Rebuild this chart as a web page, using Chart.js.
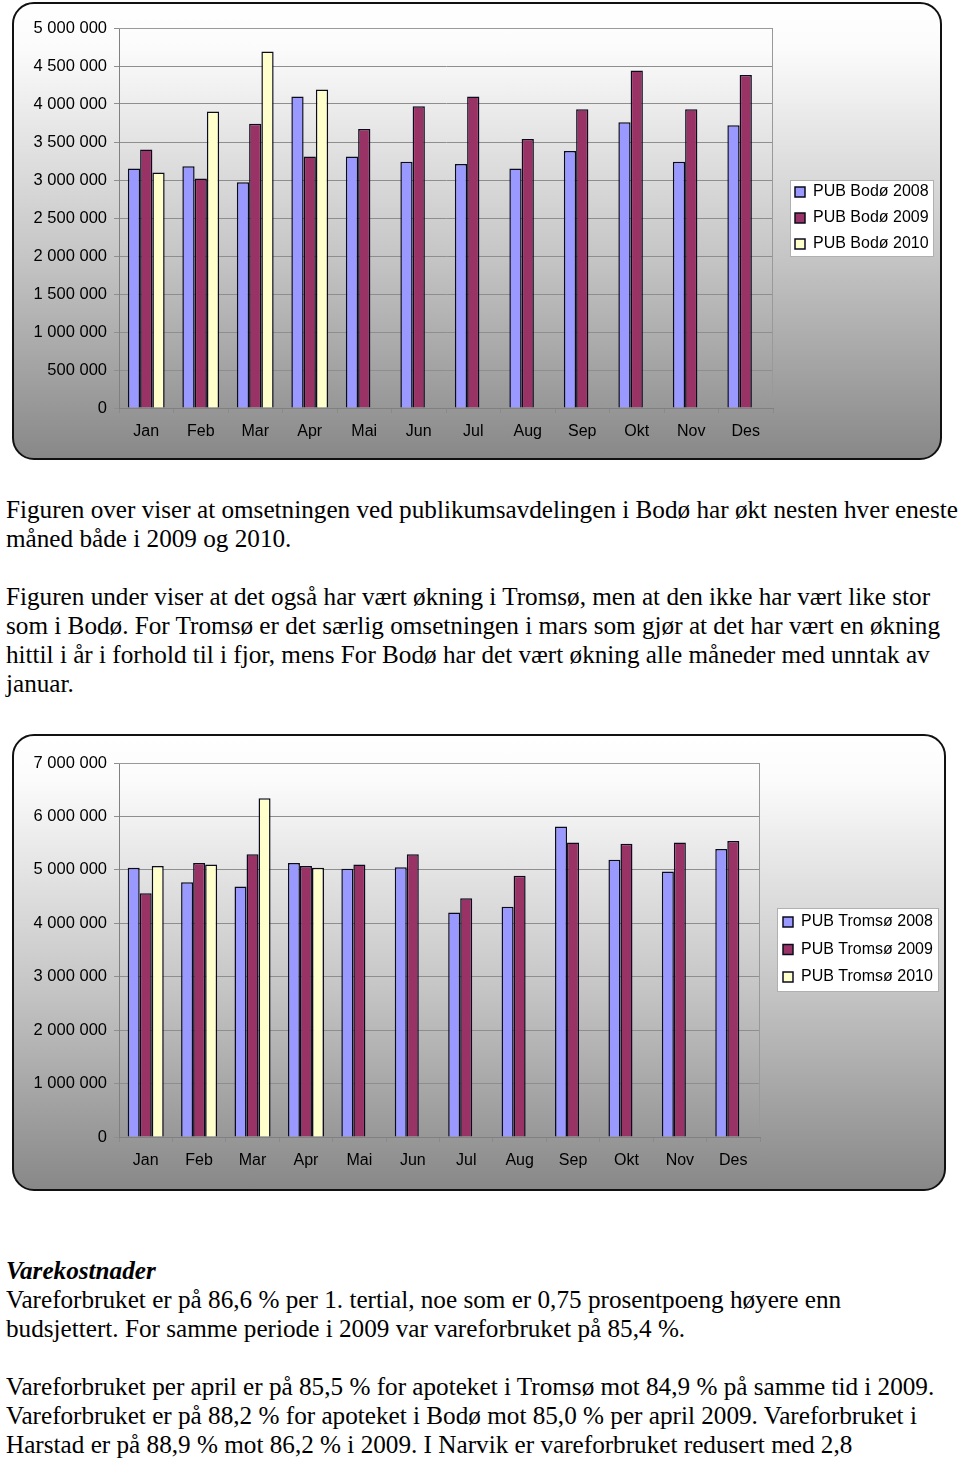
<!DOCTYPE html>
<html>
<head>
<meta charset="utf-8">
<script src="https://cdn.jsdelivr.net/npm/chart.js@4"></script>
<style>
  html, body { margin: 0; padding: 0; background: #fff; }
  body { width: 960px; height: 1461px; position: relative; overflow: hidden; }
  .box {
    position: absolute; box-sizing: border-box;
    border: 2px solid #111; border-radius: 22px;
    background: linear-gradient(to bottom, #ffffff 0%, #fbfbfb 10%, #c6c6c6 55%, #888888 100%);
  }
  canvas { position: absolute; left: 0; }
  .txt {
    position: absolute; left: 6px; margin: 0;
    font-family: "Liberation Serif", "Times New Roman", serif;
    font-size: 25.2px; line-height: 29px; color: #000; white-space: nowrap;
  }
  .txt b { font-style: italic; }
</style>
</head>
<body>
<div class="box" style="left:12px; top:2px; width:930px; height:458px;"></div>
<canvas id="c1" width="960" height="462" style="top:0px;"></canvas>

<div class="txt" style="top:495px;">Figuren over viser at omsetningen ved publikumsavdelingen i Bodø har økt nesten hver eneste<br>måned både i 2009 og 2010.<br>&nbsp;<br>Figuren under viser at det også har vært økning i Tromsø, men at den ikke har vært like stor<br>som i Bodø. For Tromsø er det særlig omsetningen i mars som gjør at det har vært en økning<br>hittil i år i forhold til i fjor, mens For Bodø har det vært økning alle måneder med unntak av<br>januar.</div>

<div class="box" style="left:12px; top:734px; width:934px; height:457px;"></div>
<canvas id="c2" width="960" height="466" style="top:730px;"></canvas>

<div class="txt" style="top:1256px;"><b>Varekostnader</b><br>Vareforbruket er på 86,6 % per 1. tertial, noe som er 0,75 prosentpoeng høyere enn<br>budsjettert. For samme periode i 2009 var vareforbruket på 85,4 %.<br>&nbsp;<br>Vareforbruket per april er på 85,5 % for apoteket i Tromsø mot 84,9 % på samme tid i 2009.<br>Vareforbruket er på 88,2 % for apoteket i Bodø mot 85,0 % per april 2009. Vareforbruket i<br>Harstad er på 88,9 % mot 86,2 % i 2009. I Narvik er vareforbruket redusert med 2,8</div>

<script>
// ---------- DATA ----------
const months = ["Jan", "Feb", "Mar", "Apr", "Mai", "Jun", "Jul", "Aug", "Sep", "Okt", "Nov", "Des"];

const bodoLabels = ["PUB Bodø 2008", "PUB Bodø 2009", "PUB Bodø 2010"];
const bodo2008 = [3150000, 3180000, 2970000, 4100000, 3310000, 3240000, 3210000, 3150000, 3380000, 3760000, 3240000, 3720000];
const bodo2009 = [3400000, 3020000, 3740000, 3310000, 3670000, 3970000, 4100000, 3540000, 3930000, 4440000, 3930000, 4380000];
const bodo2010 = [3100000, 3900000, 4690000, 4190000, null, null, null, null, null, null, null, null];
const bodoAxisMax = 5000000;
const bodoAxisStep = 500000;

const tromsoLabels = ["PUB Tromsø 2008", "PUB Tromsø 2009", "PUB Tromsø 2010"];
const tromso2008 = [5040000, 4770000, 4690000, 5130000, 5020000, 5050000, 4200000, 4310000, 5810000, 5190000, 4970000, 5390000];
const tromso2009 = [4560000, 5130000, 5290000, 5070000, 5100000, 5290000, 4470000, 4890000, 5510000, 5490000, 5510000, 5540000];
const tromso2010 = [5070000, 5100000, 6340000, 5040000, null, null, null, null, null, null, null, null];
const tromsoAxisMax = 7000000;
const tromsoAxisStep = 1000000;

// ---------- STYLE ----------
const seriesColors = ["#9999FF", "#993366", "#FFFFCC"];
const FONT = "'Liberation Sans', Arial, sans-serif";

function fmt(v) {
  return String(v).replace(/\B(?=(\d{3})+(?!\d))/g, " ");
}

const framePlugin = {
  id: "frame",
  afterInit(chart, args, opts) {
    const lg = chart.legend;
    const orig = lg.fit.bind(lg);
    lg.fit = function () { orig(); this.width = opts.legendWidth; };
  },
  afterLayout(chart, args, opts) {
    const lg = chart.legend;
    lg.left = opts.legendX;
    lg.right = chart.width;
    lg.width = lg.right - lg.left;
    lg.top = opts.legendY;
    lg.bottom = chart.height;
    lg.height = lg.bottom - lg.top;
  },
  beforeDraw(chart, args, opts) {
    const ctx = chart.ctx;
    const b = opts.legendBox;
    ctx.save();
    ctx.fillStyle = "#ffffff";
    ctx.fillRect(b[0], b[1], b[2], b[3]);
    ctx.strokeStyle = "#b0b0b0";
    ctx.lineWidth = 1;
    ctx.strokeRect(b[0] + 0.5, b[1] + 0.5, b[2] - 1, b[3] - 1);
    ctx.restore();
  },
  beforeDatasetsDraw(chart) {
    const a = chart.chartArea;
    const ctx = chart.ctx;
    ctx.save();
    ctx.strokeStyle = "#999999";
    ctx.lineWidth = 1;
    ctx.beginPath();
    ctx.moveTo(a.left, a.top + 0.5);
    ctx.lineTo(a.right - 0.5, a.top + 0.5);
    ctx.lineTo(a.right - 0.5, a.bottom);
    ctx.stroke();
    ctx.restore();
  }
};

function makeChart(id, labels, series, max, step, frame, pad, yWidth, xHeight, legendPad) {
  const datasets = series.map((d, i) => ({
    label: labels[i],
    data: d,
    backgroundColor: seriesColors[i],
    borderColor: "#0b0b1e",
    borderWidth: 1.5,
    categoryPercentage: 0.675,
    barPercentage: 1.0
  }));
  return new Chart(document.getElementById(id), {
    type: "bar",
    data: { labels: months, datasets },
    plugins: [framePlugin],
    options: {
      responsive: false,
      devicePixelRatio: 1,
      animation: false,
      layout: { padding: pad },
      plugins: {
        tooltip: { enabled: false },
        frame: frame,
        legend: {
          position: "right",
          align: "start",
          labels: {
            boxWidth: 10, boxHeight: 10, padding: legendPad,
            color: "#000", font: { family: FONT, size: 16 }
          }
        }
      },
      scales: {
        x: {
          grid: { offset: true, drawOnChartArea: false, drawTicks: true, tickLength: 5, color: "#8a8a8a" },
          border: { color: "#808080", width: 1 },
          ticks: { color: "#000", padding: 9, font: { family: FONT, size: 16 }, maxRotation: 0 },
          afterFit(s) { s.height = xHeight; }
        },
        y: {
          min: 0, max: max,
          grid: { color: "#8e8e8e", tickLength: 5, drawTicks: true },
          border: { color: "#808080", width: 1 },
          ticks: {
            stepSize: step, color: "#000", padding: 7,
            font: { family: FONT, size: 16.5 },
            callback: (v) => fmt(v)
          },
          afterFit(s) { s.width = yWidth; }
        }
      }
    }
  });
}

// Chart 1: plot area 119..773 x 28..408 (canvas 960x462)
makeChart("c1", bodoLabels, [bodo2008, bodo2009, bodo2010], bodoAxisMax, bodoAxisStep,
  { legendWidth: 187, legendX: 785, legendY: 174, legendBox: [790, 180, 144, 77] },
  { top: 28, left: 0, right: 0, bottom: 0 }, 119, 54, 10);

// Chart 2: plot area 119..760 x 33..407 (canvas 960x466)
makeChart("c2", tromsoLabels, [tromso2008, tromso2009, tromso2010], tromsoAxisMax, tromsoAxisStep,
  { legendWidth: 200, legendX: 771.5, legendY: 172.5, legendBox: [777, 178, 162, 84] },
  { top: 33, left: 0, right: 0, bottom: 0 }, 119, 59, 11.5);
</script>
</body>
</html>
